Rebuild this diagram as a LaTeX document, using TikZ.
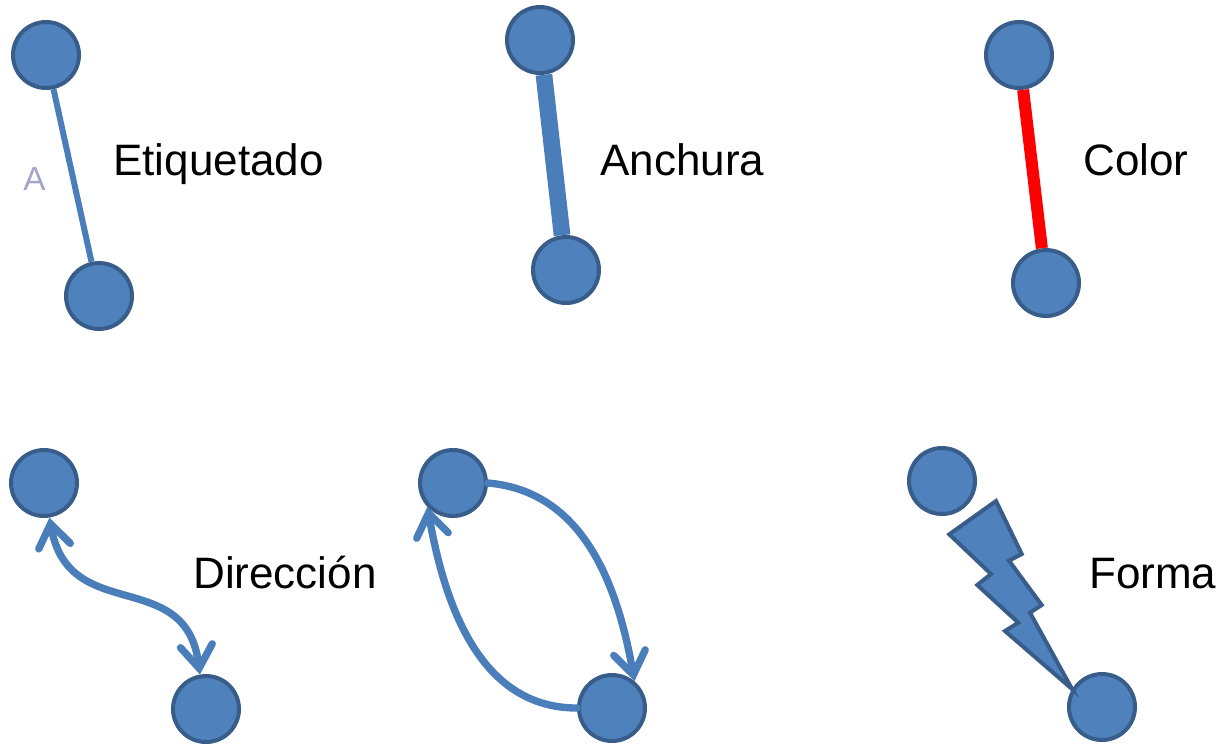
\documentclass[tikz,border=0pt]{standalone}
\usepackage{fontspec}
\setmainfont{Liberation Sans}
\usetikzlibrary{arrows.meta}
\definecolor{relleno}{RGB}{79,129,189}
\definecolor{borde}{RGB}{56,93,138}
\definecolor{linea}{RGB}{74,126,187}
\definecolor{rotulo}{RGB}{165,165,200}
\begin{document}
\begin{tikzpicture}[x=0.75pt,y=-0.75pt,
	vertice/.style={circle,fill=relleno,draw=borde,line width=3pt,minimum size=49.5pt,inner sep=0pt},
	arista/.style={draw=linea,line width=4.5pt},
	flecha/.style={draw=linea,line width=5.5pt,line cap=round},
	texto/.style={font=\fontsize{33}{40}\selectfont,inner sep=0pt,anchor=base west},
	>={Straight Barb[length=17pt,width=24pt,line cap=round]}]
\useasboundingbox (0,0) rectangle (1222,744);

% fila de arriba
	\node[vertice] (etqA) at (46,55) {};
	\node[vertice] (etqB) at (99,296) {};
	\node[vertice] (ancA) at (540,40) {};
	\node[vertice] (ancB) at (566,270) {};
	\node[vertice] (colA) at (1019,55) {};
	\node[vertice] (colB) at (1046,283) {};

	\draw[arista] (etqA) -- (etqB);
	\draw[arista,line width=12.5pt] (ancA) -- (ancB);
	\draw[arista,draw=red,line width=9pt] (colA) -- (colB);

	\node[font=\fontsize{25}{30}\selectfont,text=rotulo,inner sep=0pt,anchor=base west] (etqLbl) at (23,190) {A};
	\node[texto] (etq) at (113,175) {Etiquetado};
	\node[texto] (anc) at (600,175) {Anchura};
	\node[texto] (col) at (1083,175) {Color};

% fila de abajo
	\node[vertice] (dirA) at (44,483) {};
	\node[vertice] (dirB) at (206,709) {};
	\node[vertice] (cicA) at (453,483) {};
	\node[vertice] (cicB) at (612,708) {};
	\node[vertice] (forA) at (942,481) {};
	\node[vertice] (forB) at (1102,707) {};

	\draw[flecha,<->] (dirA.-81) to[out=-80,in=97,looseness=1.3] (dirB.100);
	\draw[flecha,->] (cicA.east) to[out=-5,in=100] (cicB.50);
	\draw[flecha,->] (cicB.west) to[out=180,in=-80] (cicA.223);

	\draw[fill=relleno,draw=borde,line width=3pt,line join=miter]
		(996,501) -- (1021.7,554) -- (1009,560.7) -- (1041.7,605) -- (1030,612.7)
		-- (forB.149) -- (1005,631) -- (1018.3,622.7) -- (977.3,585) -- (991,574)
		-- (949.3,534.3) -- cycle;

	\node[texto] (dir) at (193,588) {Dirección};
	\node[texto] (for) at (1089,588) {Forma};
\end{tikzpicture}
\end{document}
